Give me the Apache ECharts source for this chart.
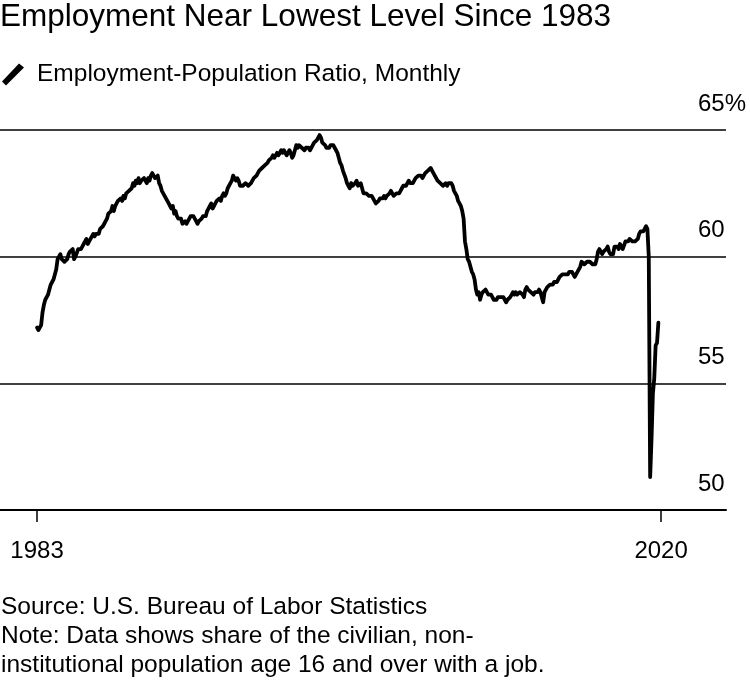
<!DOCTYPE html>
<html>
<head>
<meta charset="utf-8">
<script src="https://cdn.jsdelivr.net/npm/echarts@6/dist/echarts.min.js"></script>
<style>
html,body{margin:0;padding:0;background:#fff;}
#chart{width:750px;height:684px;}
</style>
</head>
<body>
<div id="chart"></div>
<script>
// Employment-population ratio, monthly, Jan 1983 – Oct 2020 (percent)
const startYear = 1983;
const ratio1980s = [
  57.2, 57.1, 57.2, 57.3, 57.8, 58.1, 58.3, 58.3, 58.5, 58.7, 58.9, 59.0,
  59.1, 59.3, 59.5, 59.9, 60.0, 60.1, 59.9, 59.9, 59.8, 59.8, 59.9, 60.1,
  60.2, 60.2, 60.3, 59.9, 60.0, 60.0, 60.3, 60.3, 60.3, 60.4, 60.5, 60.5,
  60.7, 60.5, 60.6, 60.7, 60.7, 60.9, 60.8, 60.9, 60.9, 60.9, 61.1, 61.1,
  61.2, 61.3, 61.4, 61.5, 61.7, 61.7, 61.8, 62.0, 61.8, 62.0, 62.1, 62.2,
  62.2, 62.3, 62.2, 62.4, 62.3, 62.5, 62.5, 62.6, 62.6, 62.7, 62.9, 62.8,
  63.0, 62.9, 63.1, 62.9, 63.0, 63.0, 63.1, 63.1, 62.9, 63.1, 63.0, 63.2
];
const ratio1990s = [
  63.3, 63.2, 63.1, 63.1, 63.2, 62.9, 62.8, 62.6, 62.5, 62.4, 62.3, 62.3,
  62.1, 62.0, 61.9, 62.0, 61.7, 61.8, 61.6, 61.5, 61.5, 61.5, 61.3, 61.3,
  61.4, 61.3, 61.4, 61.5, 61.6, 61.6, 61.6, 61.5, 61.4, 61.3, 61.4, 61.4,
  61.5, 61.6, 61.6, 61.6, 61.8, 61.9, 62.0, 62.1, 61.9, 62.0, 62.1, 62.2,
  62.2, 62.3, 62.2, 62.4, 62.5, 62.4, 62.5, 62.7, 62.7, 62.9, 63.0, 63.2,
  63.1, 63.0, 63.1, 63.0, 62.8, 62.8, 62.8, 62.8, 62.9, 62.9, 62.8, 62.8,
  62.9, 63.0, 63.1, 63.1, 63.2, 63.2, 63.4, 63.4, 63.5, 63.5, 63.6, 63.6,
  63.7, 63.8, 63.8, 63.9, 64.0, 63.9, 64.0, 64.1, 64.0, 64.1, 64.2, 64.1,
  64.2, 64.1, 64.0, 64.1, 64.2, 64.1, 63.9, 64.0, 64.2, 64.4, 64.3, 64.4,
  64.4, 64.3, 64.3, 64.2, 64.3, 64.3, 64.3, 64.2, 64.3, 64.4, 64.5, 64.5
];
const ratio2000s = [
  64.6, 64.6, 64.8, 64.7, 64.5, 64.5, 64.4, 64.3, 64.3, 64.3, 64.4, 64.4,
  64.4, 64.3, 64.2, 64.1, 63.9, 63.7, 63.6, 63.4, 63.4, 63.1, 62.9, 62.8,
  62.7, 62.9, 62.8, 62.8, 62.9, 63.0, 62.8, 62.8, 62.9, 62.7, 62.5, 62.5,
  62.5, 62.5, 62.4, 62.4, 62.4, 62.3, 62.2, 62.1, 62.1, 62.2, 62.3, 62.3,
  62.3, 62.4, 62.3, 62.4, 62.4, 62.5, 62.6, 62.5, 62.4, 62.4, 62.5, 62.5,
  62.5, 62.6, 62.7, 62.8, 62.8, 62.8, 62.9, 63.0, 62.9, 62.9, 62.9, 63.0,
  63.1, 63.1, 63.2, 63.2, 63.2, 63.1, 63.2, 63.3, 63.3, 63.4, 63.4, 63.5,
  63.4, 63.3, 63.2, 63.1, 63.0, 63.0, 62.9, 62.9, 62.8, 62.8, 62.9, 62.8,
  62.9, 62.9, 62.9, 62.8, 62.6, 62.5, 62.4, 62.2, 62.1, 62.0, 61.8, 61.5,
  60.6, 60.3, 59.9, 59.8, 59.6, 59.4, 59.3, 59.1, 58.7, 58.5, 58.6, 58.3
];
const ratio2010s = [
  58.5, 58.6, 58.6, 58.7, 58.6, 58.5, 58.5, 58.5, 58.5, 58.3, 58.3, 58.3,
  58.4, 58.4, 58.4, 58.4, 58.4, 58.3, 58.2, 58.3, 58.3, 58.4, 58.5, 58.6,
  58.5, 58.6, 58.5, 58.5, 58.6, 58.6, 58.5, 58.4, 58.7, 58.8, 58.7, 58.7,
  58.6, 58.6, 58.5, 58.6, 58.6, 58.6, 58.7, 58.6, 58.6, 58.2, 58.6, 58.6,
  58.8, 58.8, 58.9, 58.9, 58.9, 59.0, 59.0, 59.0, 59.0, 59.2, 59.2, 59.3,
  59.3, 59.3, 59.3, 59.3, 59.4, 59.4, 59.4, 59.4, 59.2, 59.3, 59.4, 59.5,
  59.6, 59.8, 59.8, 59.7, 59.7, 59.8, 59.8, 59.8, 59.8, 59.7, 59.7, 59.7,
  59.9, 60.2, 60.3, 60.2, 60.1, 60.2, 60.2, 60.3, 60.4, 60.2, 60.1, 60.1,
  60.1, 60.4, 60.4, 60.4, 60.3, 60.5, 60.4, 60.3, 60.3, 60.6, 60.6, 60.6,
  60.7, 60.7, 60.6, 60.6, 60.6, 60.6, 60.7, 60.9, 61.0, 61.0, 61.0, 61.1
];
const ratio2020 = [61.2, 61.1, 60.0, 51.3, 52.8, 54.6, 55.2, 56.5, 56.6, 57.4];

const yTicks = [50, 55, 60, 65];
const xTickLabels = ['1983', '2020'];
// tick months, counted from Jan 1983: Jan 1983 and Dec 2020
const xTickMonths = [0, 455];

const ratio = [].concat(ratio1980s, ratio1990s, ratio2000s, ratio2010s, ratio2020);
const seriesData = ratio.map((v, i) => [i, v]);

const FONT = '"Liberation Sans", Arial, Helvetica, sans-serif';

const chart = echarts.init(document.getElementById('chart'), null, {renderer: 'canvas'});
chart.setOption({
  animation: false,
  backgroundColor: '#fff',
  textStyle: {fontFamily: FONT, color: '#000'},
  title: [
    {
      text: 'Employment Near Lowest Level Since 1983',
      left: 0, top: 1, padding: 0,
      textStyle: {fontFamily: FONT, fontSize: 31.5, fontWeight: 'normal', color: '#000'}
    },
    {
      text: 'Source: U.S. Bureau of Labor Statistics\nNote: Data shows share of the civilian, non-\ninstitutional population age 16 and over with a job.',
      left: 1, top: 593, padding: 0,
      textStyle: {fontFamily: FONT, fontSize: 24.5, fontWeight: 'normal', color: '#000', lineHeight: 29}
    }
  ],
  legend: {
    left: 2, top: 62, padding: 0,
    itemWidth: 22, itemHeight: 22,
    icon: 'path://M0,18 L17,0 L22,4 L4,22 Z',
    textStyle: {fontFamily: FONT, fontSize: 24.5, color: '#000', padding: [0, 0, 0, 8]},
    data: ['Employment-Population Ratio, Monthly']
  },
  grid: {left: 0, right: 24, top: 130, bottom: 174, containLabel: false},
  xAxis: {
    type: 'value',
    min: -27, max: 502.3,
    axisLine: {show: true, lineStyle: {color: '#000', width: 2}},
    axisTick: {show: true, length: 12, lineStyle: {color: '#000', width: 1.5}, customValues: xTickMonths},
    axisLabel: {
      show: true, customValues: xTickMonths, margin: 29,
      fontFamily: FONT, fontSize: 24, color: '#000',
      formatter: (v) => xTickLabels[xTickMonths.indexOf(v)] || ''
    },
    splitLine: {show: false}
  },
  yAxis: {
    type: 'value', position: 'right',
    min: yTicks[0], max: yTicks[yTicks.length - 1], interval: 5,
    axisLine: {show: false}, axisTick: {show: false},
    splitLine: {show: true, lineStyle: {color: '#000', width: 1.5}},
    axisLabel: {
      inside: true, margin: 28, align: 'left', verticalAlign: 'bottom',
      padding: [0, 0, 14, 0],
      fontFamily: FONT, fontSize: 24, color: '#000',
      formatter: (v) => v === 65 ? v + '%' : String(v)
    }
  },
  series: [{
    name: 'Employment-Population Ratio, Monthly',
    type: 'line',
    data: seriesData,
    showSymbol: false,
    symbol: 'none',
    lineStyle: {color: '#000', width: 3.8, join: 'round', cap: 'round'},
    itemStyle: {color: '#000'}
  }]
});
</script>
</body>
</html>
